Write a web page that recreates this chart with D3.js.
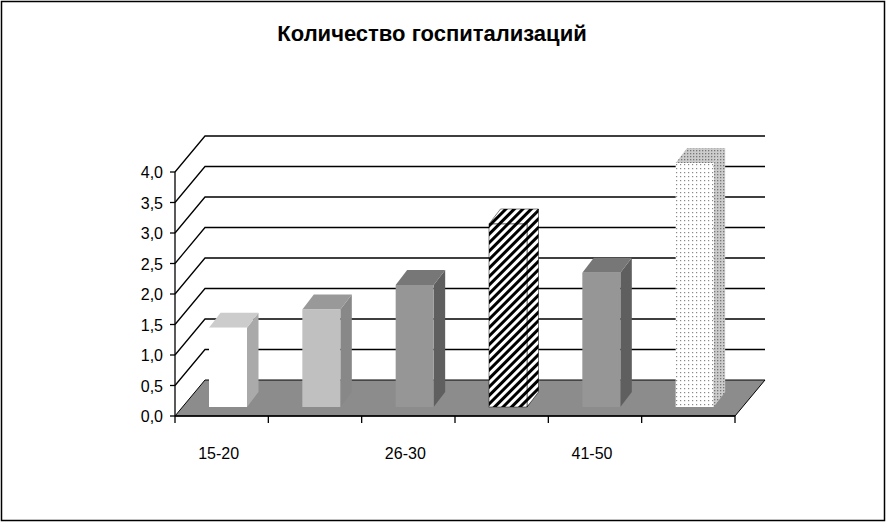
<!DOCTYPE html><html><head><meta charset="utf-8"><script src="https://cdn.jsdelivr.net/npm/d3@7"></script>
<style>body{margin:0;background:#fff}</style></head><body><script>
const categories=["15-20","21-25","26-30","31-40","41-50","51+"];
const shownLabels=["15-20","","26-30","","41-50",""];
const values=[1.3,1.6,2.0,3.0,2.2,4.0];
const yTicks=[0,0.5,1,1.5,2,2.5,3,3.5,4];
const title="Количество госпитализаций";
const W=886,H=522;
const svg=d3.select("body").append("svg").attr("width",W).attr("height",H);
const defs=svg.append("defs");
const st=defs.append("pattern").attr("id","stripe").attr("width",6).attr("height",6).attr("patternUnits","userSpaceOnUse").attr("patternTransform","rotate(45)");
st.append("rect").attr("width",6).attr("height",6).attr("fill","#fff");
st.append("rect").attr("width",3).attr("height",6).attr("fill","#000");
const dt=defs.append("pattern").attr("id","dots").attr("width",4).attr("height",4).attr("patternUnits","userSpaceOnUse");
dt.append("rect").attr("width",4).attr("height",4).attr("fill","#fff");
dt.append("rect").attr("width",1.2).attr("height",1.2).attr("fill","#888");
const dt2=defs.append("pattern").attr("id","dots2").attr("width",3).attr("height",3).attr("patternUnits","userSpaceOnUse");
dt2.append("rect").attr("width",3).attr("height",3).attr("fill","#ccc");
dt2.append("rect").attr("width",1.3).attr("height",1.3).attr("fill","#777");
svg.append("rect").attr("x",1.5).attr("y",1.5).attr("width",W-3).attr("height",H-3).attr("fill","#fff").attr("stroke","#000").attr("stroke-width",1.5);
svg.append("text").attr("x",432).attr("y",41).attr("text-anchor","middle").attr("font-family","Liberation Sans,Arial").attr("font-weight","bold").attr("font-size",22).text(title);
const x0=175,x1=735,dx=30,dy=-36;
const y=d3.scaleLinear().domain([0,4]).range([416,172]);
const x=d3.scaleBand().domain(categories).range([x0,x1]);
svg.append("path").attr("d",`M${x0},416L${x1},416L${x1+dx},${416+dy}L${x0+dx},${416+dy}Z`).attr("fill","#8c8c8c").attr("stroke","#000").attr("stroke-width",1);
const g=svg.append("g").attr("stroke","#000").attr("stroke-width",1.3).attr("fill","none");
yTicks.forEach(t=>{const yy=y(t);
 if(t>0) g.append("path").attr("d",`M${x0},${yy}L${x0+dx},${yy+dy}L${x1+dx},${yy+dy}`);});
g.append("line").attr("x1",x0).attr("x2",x0).attr("y1",y(0)).attr("y2",y(4));
yTicks.forEach(t=>{g.append("line").attr("x1",x0-5).attr("x2",x0).attr("y1",y(t)).attr("y2",y(t));
 svg.append("text").attr("x",163).attr("y",y(t)+6).attr("text-anchor","end").attr("font-family","Liberation Sans,Arial").attr("font-size",16).text(d3.format(".1f")(t).replace(".",","));});
g.append("line").attr("x1",x0).attr("x2",x1).attr("y1",416).attr("y2",416);
[...categories.map(c=>x(c)),x1].forEach(xx=>g.append("line").attr("x1",xx).attr("x2",xx).attr("y1",416).attr("y2",423));
categories.forEach((c,i)=>svg.append("text").attr("x",x(c)+x.bandwidth()/2-3).attr("y",459).attr("text-anchor","middle").attr("font-family","Liberation Sans,Arial").attr("font-size",16).text(shownLabels[i]));
const styles=[["#fff","#aaa","#ccc"],["#c0c0c0","#888","#999"],["#969696","#5f5f5f","#777"],["url(#stripe)","url(#stripe)","url(#stripe)"],["#969696","#5f5f5f","#777"],["url(#dots)","url(#dots2)","url(#dots2)"]];
const bw=38,sx=11.5,sy=-15,by=407;
const sc=d3.scaleLinear().domain([0,4]).range([by,by-(416-172)]);
categories.forEach((c,i)=>{const bx=x(c)+34,top=sc(values[i]),s=styles[i];
 svg.append("path").attr("d",`M${bx+bw},${by}L${bx+bw+sx},${by+sy}L${bx+bw+sx},${top+sy}L${bx+bw},${top}Z`).attr("fill",s[1]).attr("stroke",i==3?"#000":"none").attr("stroke-width",0.5);
 svg.append("path").attr("d",`M${bx},${top}L${bx+sx},${top+sy}L${bx+bw+sx},${top+sy}L${bx+bw},${top}Z`).attr("fill",s[2]).attr("stroke",i==3?"#000":"none").attr("stroke-width",0.5);
 svg.append("rect").attr("x",bx).attr("y",top).attr("width",bw).attr("height",by-top).attr("fill",s[0]).attr("stroke",i==3?"#000":"none").attr("stroke-width",0.5);
});
</script></body></html>
